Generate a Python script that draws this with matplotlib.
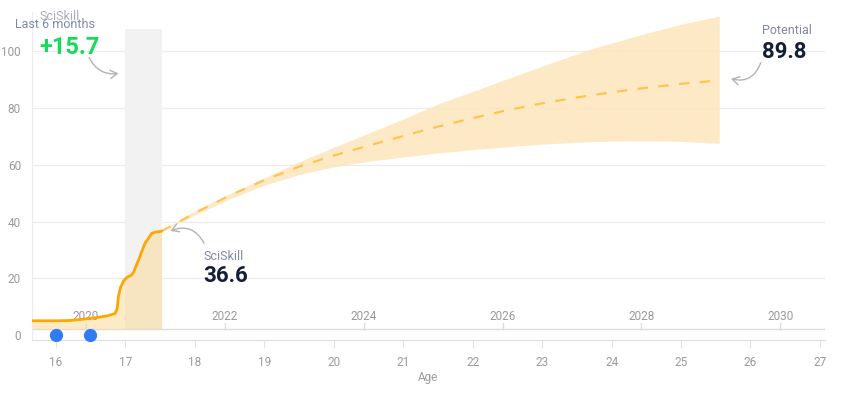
import matplotlib.pyplot as plt
from matplotlib.patches import FancyArrowPatch

plt.rcParams['font.family'] = ['Roboto', 'DejaVu Sans']

# history (age, SciSkill)
hist_age = [15.65, 16.0, 16.2, 16.4, 16.6, 16.75, 16.85, 16.88, 16.90, 16.93, 16.97,
            17.02, 17.09, 17.12, 17.16, 17.20, 17.24, 17.28, 17.33, 17.38, 17.44, 17.52]
hist_val = [5.0, 5.0, 5.1, 5.6, 6.2, 6.8, 7.6, 9.2, 13.8, 16.8, 19.0,
            20.3, 21.2, 22.3, 24.8, 27.1, 29.8, 32.3, 34.1, 35.9, 36.3, 36.6]

# projection
proj_age = [17.52, 18.0, 18.5, 19.0, 19.5, 20.0, 20.5, 21.0, 21.5, 22.0, 22.5,
            23.0, 23.5, 24.0, 24.5, 25.0, 25.55]
proj_mid = [36.6, 43.0, 49.2, 54.6, 59.4, 63.3, 66.8, 70.2, 73.5, 76.5, 79.3,
            81.7, 83.8, 85.6, 87.2, 88.6, 89.8]
proj_hi = [36.6, 43.9, 49.8, 55.4, 61.1, 66.2, 71.2, 76.2, 81.5, 85.9, 90.4,
           94.8, 99.2, 103.0, 106.4, 109.6, 112.5]
proj_lo = [36.6, 42.3, 48.0, 52.8, 56.6, 59.3, 61.3, 62.8, 64.2, 65.4, 66.4,
           67.3, 68.0, 68.4, 68.5, 68.3, 67.6]

event_age = [16.0, 16.49]
age_ticks = list(range(16, 28))
y_ticks = [0, 20, 40, 60, 80, 100]
years = [2020, 2022, 2024, 2026, 2028, 2030]
year_offset = 2003.57  # year = age + offset
window = (17.0, 17.52)  # last 6 months
base = 2.0  # baseline of the year strip

current = 36.6
potential = 89.8
change = 15.7

W, H = 842, 394
fig = plt.figure(figsize=(W / 100, H / 100), dpi=100)
ax = fig.add_axes([32 / W, (H - 339.5) / H, (825 - 32) / W, (339.5 - 11.8) / H])
ax.set_xlim(15.654, 27.073)
ax.set_ylim(-1.6, 114)

orange = '#ffa600'
band = '#fde6bb'
grey_txt = '#9a9a9a'

for y in y_ticks[1:]:
    ax.axhline(y, color='#ececec', lw=0.9, zorder=0)

# last 6 months window
ax.fill_between(window, base, 108, color='#f2f2f2', zorder=1, lw=0)

# history
ax.fill_between(hist_age, base, hist_val, color='#fcdca0', alpha=0.6, lw=0, zorder=2)
ax.plot(hist_age, hist_val, color=orange, lw=2, zorder=4, solid_capstyle='round')

# projection
ax.fill_between(proj_age, proj_lo, proj_hi, color=band, alpha=0.85, lw=0, zorder=2)
ax.plot(proj_age, proj_mid, color='#ffc447', lw=1.5, ls=(0, (5, 5)), zorder=3)

# events
ax.plot(event_age, [0] * len(event_age), 'o', color='#2f7cf6', ms=8.5, zorder=5, clip_on=False)

# year strip
ax.axhline(base, color='#dcdcdc', lw=1, zorder=1)
for yr in years:
    a = yr - year_offset
    ax.plot([a, a], [base, base + 2.2], color='#dcdcdc', lw=1, zorder=1)
    ax.text(a, base + 4.5, str(yr), ha='center', va='center', fontsize=8.5, color=grey_txt, zorder=3)

# axes styling
for s in ['top', 'right']:
    ax.spines[s].set_visible(False)
ax.spines['bottom'].set_color('#dcdcdc')
ax.spines['left'].set_color('#ececec')
ax.set_xticks(age_ticks)
ax.set_yticks(y_ticks)
ax.tick_params(axis='x', length=6, color='#e4e4e4', labelcolor=grey_txt, labelsize=8.5, pad=6)
ax.tick_params(axis='y', length=0, labelcolor=grey_txt, labelsize=8.5, pad=8)
ax.set_xlabel('Age', color=grey_txt, fontsize=8.5, labelpad=1)

# annotations
def arrow(p0, p1, rad):
    ax.add_patch(FancyArrowPatch(p0, p1, connectionstyle=f'arc3,rad={rad}',
                                 arrowstyle='->,head_length=5,head_width=3',
                                 color='#b3b3b3', lw=1, zorder=6, clip_on=False))

arrow((16.46, 98.8), (16.94, 92.4), 0.4)
arrow((18.15, 31.4), (17.61, 36.3), 0.5)
arrow((26.16, 97.0), (25.68, 90.6), -0.5)

def ftext(px, py, s, **kw):
    fig.text(px / W, 1 - py / H, s, va='center', ha='left', **kw)

ftext(40, 17, 'SciSkill', fontsize=9, color='#a9afba')
ftext(15, 25, 'Last 6 months', fontsize=9, color='#7d8aa3')
ftext(39, 47, f'+{change}', fontsize=17, color='#13dd58', fontweight='bold')
ftext(203, 256, 'SciSkill', fontsize=9, color='#7d8aa3')
ftext(203, 276, f'{current}', fontsize=16, color='#141e36', fontweight='bold')
ftext(762, 30, 'Potential', fontsize=9, color='#7d8aa3')
ftext(762, 52, f'{potential}', fontsize=16, color='#141e36', fontweight='bold')

fig.savefig('out.png', dpi=100, facecolor='white')
